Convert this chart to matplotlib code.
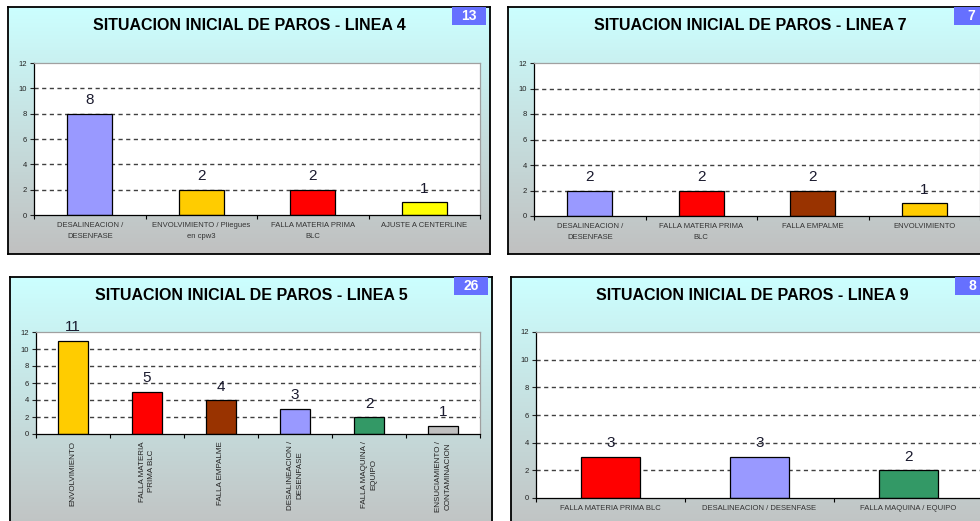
import numpy as np
import matplotlib
matplotlib.use("Agg")
import matplotlib.pyplot as plt
from matplotlib.patches import Rectangle
from matplotlib.colors import to_rgb

plt.rcParams['font.family'] = ['Liberation Sans', 'DejaVu Sans']

W, H = 980, 521

# Linea 4
cats_l4 = ['DESALINEACION /\nDESENFASE', 'ENVOLVIMIENTO / Pliegues\nen cpw3',
           'FALLA MATERIA PRIMA\nBLC', 'AJUSTE A CENTERLINE']
vals_l4 = [8, 2, 2, 1]
cols_l4 = ['#9999ff', '#ffcc00', '#ff0000', '#ffff00']

# Linea 7
cats_l7 = ['DESALINEACION /\nDESENFASE', 'FALLA MATERIA PRIMA\nBLC',
           'FALLA EMPALME', 'ENVOLVIMIENTO']
vals_l7 = [2, 2, 2, 1]
cols_l7 = ['#9999ff', '#ff0000', '#993300', '#ffcc00']

# Linea 5
cats_l5 = ['ENVOLVIMIENTO', 'FALLA MATERIA\nPRIMA BLC', 'FALLA EMPALME',
           'DESALINEACION /\nDESENFASE', 'FALLA MAQUINA /\nEQUIPO',
           'ENSUCIAMIENTO /\nCONTAMINACION']
vals_l5 = [11, 5, 4, 3, 2, 1]
cols_l5 = ['#ffcc00', '#ff0000', '#993300', '#9999ff', '#339966', '#c0c0c0']

# Linea 9
cats_l9 = ['FALLA MATERIA PRIMA BLC', 'DESALINEACION / DESENFASE', 'FALLA MAQUINA / EQUIPO']
vals_l9 = [3, 3, 2]
cols_l9 = ['#ff0000', '#9999ff', '#339966']


def frac(x0, y0, x1, y1):
    # pixel box (top-left origin) -> figure fraction rect
    return [x0 / W, 1 - y1 / H, (x1 - x0) / W, (y1 - y0) / H]


fig = plt.figure(figsize=(W / 100, H / 100), dpi=100)
fig.patch.set_facecolor('white')

top_c = np.array(to_rgb('#ccffff'))
bot_c = np.array(to_rgb('#c0c0c0'))
g = np.linspace(0, 1, 256)[:, None, None]
grad = top_c * (1 - g) + bot_c * g


def panel(box, plot, title, badge, cats, vals, cols, rotate=False):
    x0, y0, x1, y1 = box
    bg = fig.add_axes(frac(*box), zorder=0)
    bg.imshow(grad, aspect='auto', extent=[0, 1, 0, 1], origin='upper')
    bg.set_xlim(0, 1)
    bg.set_ylim(0, 1)
    bg.set_xticks([])
    bg.set_yticks([])
    for s in bg.spines.values():
        s.set_color('black')
        s.set_linewidth(1.3)

    fig.text((x0 + x1) / 2 / W, 1 - (y0 + 19) / H, title, ha='center', va='center',
             fontsize=11.5, fontweight='bold', color='black', zorder=3)

    bx1 = x1 - 4
    fig.add_artist(Rectangle(((bx1 - 34) / W, 1 - (y0 + 18) / H), 34 / W, 18 / H,
                             transform=fig.transFigure, facecolor='#6670ff',
                             edgecolor='none', zorder=3))
    fig.text((bx1 - 17) / W, 1 - (y0 + 9) / H, badge, ha='center', va='center',
             fontsize=10, fontweight='bold', color='white', zorder=4)

    ax = fig.add_axes(frac(*plot), zorder=1)
    ax.set_facecolor('white')
    n = len(vals)
    x = np.arange(n)
    for yv in range(2, 12, 2):
        ax.axhline(yv, color='#404040', lw=1.0, ls=(0, (3, 2.5)), zorder=1)
    ax.bar(x, vals, width=0.4, color=cols, edgecolor='black', linewidth=0.9, zorder=2)
    for i, v in enumerate(vals):
        ax.annotate(str(v), (x[i], v), xytext=(0, 9.5), textcoords='offset points',
                    ha='center', va='center', fontsize=11, color='#1a1a2e', zorder=3)
    ax.set_xlim(-0.5, n - 0.5)
    ax.set_ylim(0, 12)
    ax.set_yticks(range(0, 13, 2))
    ax.tick_params(axis='y', length=3, width=0.8, labelsize=5.5, pad=2, colors='#222222')
    ax.set_xticks(x)
    ax.set_xticks(np.arange(-0.5, n, 1.0), minor=True)
    ax.tick_params(axis='x', which='major', length=0, pad=5)
    ax.tick_params(axis='x', which='minor', length=3, width=0.8)
    if rotate:
        ax.set_xticklabels(cats, rotation=90, ha='center', va='top', fontsize=5.8,
                           color='#222222', multialignment='center', linespacing=1.5)
    else:
        ax.set_xticklabels(cats, fontsize=5.5, color='#333333', linespacing=1.9)
    ax.spines['left'].set_color('black')
    ax.spines['bottom'].set_color('black')
    ax.spines['top'].set_color('#a0a0a0')
    ax.spines['right'].set_color('#a0a0a0')
    for s in ax.spines.values():
        s.set_linewidth(0.9)
    return ax


panel((8, 7, 490, 254), (34, 63, 480, 215),
      'SITUACION INICIAL DE PAROS - LINEA 4', '13', cats_l4, vals_l4, cols_l4)
panel((508, 7, 992, 254), (534, 63, 980, 216),
      'SITUACION INICIAL DE PAROS - LINEA 7', '7', cats_l7, vals_l7, cols_l7)
panel((10, 277, 492, 540), (36, 332, 480, 434),
      'SITUACION INICIAL DE PAROS - LINEA 5', '26', cats_l5, vals_l5, cols_l5, rotate=True)
panel((511, 277, 993, 540), (536, 332, 983, 498),
      'SITUACION INICIAL DE PAROS - LINEA 9', '8', cats_l9, vals_l9, cols_l9)

fig.savefig('out.png', dpi=100)
